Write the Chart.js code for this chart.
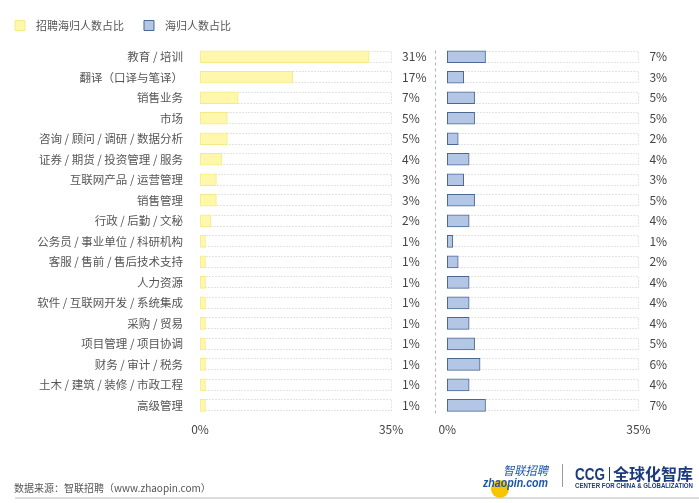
<!DOCTYPE html>
<html>
<head>
<meta charset="utf-8">
<script src="https://cdn.jsdelivr.net/npm/chart.js@4.4.0/dist/chart.umd.min.js"></script>
<style>
  html, body { margin: 0; padding: 0; background: #fff; }
  #wrap { width: 699px; height: 503px; }
</style>
</head>
<body>
<div id="wrap"><canvas id="myChart" width="699" height="503"></canvas></div>
<script>
var categories = [
  "教育 / 培训",
  "翻译（口译与笔译）",
  "销售业务",
  "市场",
  "咨询 / 顾问 / 调研 / 数据分析",
  "证券 / 期货 / 投资管理 / 服务",
  "互联网产品 / 运营管理",
  "销售管理",
  "行政 / 后勤 / 文秘",
  "公务员 / 事业单位 / 科研机构",
  "客服 / 售前 / 售后技术支持",
  "人力资源",
  "软件 / 互联网开发 / 系统集成",
  "采购 / 贸易",
  "项目管理 / 项目协调",
  "财务 / 审计 / 税务",
  "土木 / 建筑 / 装修 / 市政工程",
  "高级管理",
];
var recruitShare = [31, 17, 7, 5, 5, 4, 3, 3, 2, 1, 1, 1, 1, 1, 1, 1, 1, 1];
var returneeShare = [7, 3, 5, 5, 2, 4, 3, 5, 4, 1, 2, 4, 4, 4, 5, 6, 4, 7];
var tickValues = [0, 35];
var trackMax = 35;

var FONT = '"Noto Sans CJK SC", "Noto Sans", sans-serif';
Chart.defaults.font.family = FONT;
Chart.defaults.color = "#555";

// squeeze text to a given width (for the logos)
function fitText(ctx, text, x, y, width) {
  var w = ctx.measureText(text).width;
  ctx.save();
  ctx.translate(x, y);
  ctx.scale(width / w, 1);
  ctx.fillText(text, 0, 0);
  ctx.restore();
}

// dotted track boxes behind the bars, value text, divider, footer
var decorations = {
  id: "decorations",
  beforeInit: function (chart) {
    var fit = chart.legend.fit;
    chart.legend.fit = function () {
      fit.bind(chart.legend)();
      this.height = 46.5;
    };
  },
  beforeDatasetsDraw: function (chart) {
    var ctx = chart.ctx;
    ctx.save();
    ctx.strokeStyle = "#c8c8c8";
    ctx.lineWidth = 1;
    ctx.setLineDash([1, 2]);
    [0, 1].forEach(function (i) {
      var meta = chart.getDatasetMeta(i);
      var scale = chart.scales[meta.xAxisID];
      var x0 = scale.getPixelForValue(0);
      var x1 = scale.getPixelForValue(trackMax);
      meta.data.forEach(function (bar) {
        var top = Math.round(bar.y - bar.height / 2);
        ctx.strokeRect(Math.round(x0) + 0.5, top + 0.5, Math.round(x1 - x0), Math.round(bar.height) - 1);
      });
    });
    ctx.restore();
  },
  afterDatasetsDraw: function (chart) {
    var ctx = chart.ctx;
    var area = chart.chartArea;
    ctx.save();
    // value labels
    ctx.font = "12px " + FONT;
    ctx.fillStyle = "#444";
    ctx.textBaseline = "middle";
    ctx.textAlign = "left";
    [0, 1].forEach(function (i) {
      var meta = chart.getDatasetMeta(i);
      var scale = chart.scales[meta.xAxisID];
      var xEnd = scale.getPixelForValue(trackMax);
      var values = chart.data.datasets[i].data;
      meta.data.forEach(function (bar, j) {
        ctx.fillText(values[j] + "%", xEnd + 11, bar.y);
      });
    });
    // dashed divider between the two panels
    var xd = Math.round(chart.scales.x1.right) + 0.5;
    ctx.strokeStyle = "#b5b5b5";
    ctx.setLineDash([3, 3]);
    ctx.beginPath();
    ctx.moveTo(xd, area.top + 4);
    ctx.lineTo(xd, area.bottom);
    ctx.stroke();
    ctx.restore();
  },
  afterDraw: function (chart) {
    var ctx = chart.ctx;
    ctx.save();
    // source note
    ctx.font = "10px " + FONT;
    ctx.fillStyle = "#555";
    ctx.textBaseline = "middle";
    ctx.textAlign = "left";
    ctx.fillText("数据来源：智联招聘（www.zhaopin.com）", 14, 488);
    // bottom rule
    ctx.strokeStyle = "#dcdcdc";
    ctx.lineWidth = 2;
    ctx.beginPath();
    ctx.moveTo(15, 498);
    ctx.lineTo(699, 498);
    ctx.stroke();
    // zhaopin logo
    ctx.fillStyle = "#f6c500";
    ctx.beginPath();
    ctx.arc(500, 489, 9, 0, Math.PI * 2);
    ctx.fill();
    ctx.fillStyle = "#1d56a8";
    ctx.textBaseline = "alphabetic";
    ctx.font = "italic 12px " + FONT;
    fitText(ctx, "智联招聘", 503, 475, 45);
    ctx.font = "italic bold 13px 'Liberation Sans', sans-serif";
    fitText(ctx, "zhaopin.com", 483, 487, 65);
    // separator
    ctx.strokeStyle = "#9a9a9a";
    ctx.lineWidth = 1;
    ctx.beginPath();
    ctx.moveTo(562.5, 464);
    ctx.lineTo(562.5, 487);
    ctx.stroke();
    // CCG logo
    ctx.fillStyle = "#1b3b7c";
    ctx.font = "bold 16px 'Liberation Sans', sans-serif";
    fitText(ctx, "CCG", 575, 480, 30);
    ctx.fillRect(609, 467, 1, 14);
    ctx.font = "bold 16px " + FONT;
    fitText(ctx, "全球化智库", 613, 480, 80);
    ctx.font = "bold 7px 'Liberation Sans Narrow', 'Liberation Sans', sans-serif";
    fitText(ctx, "CENTER FOR CHINA & GLOBALIZATION", 575, 488, 118);
    ctx.restore();
  },
};

function panelTicks(scale) {
  scale.ticks = tickValues.map(function (v) {
    return { value: v };
  });
}

function pct(v) {
  return v + "%";
}

var ctx = document.getElementById("myChart").getContext("2d");
var myChart = new Chart(ctx, {
  type: "bar",
  data: {
    labels: categories,
    datasets: [
      {
        label: "招聘海归人数占比",
        data: recruitShare,
        xAxisID: "x1",
        backgroundColor: "#fff7ac",
        borderColor: "#f5ea85",
        borderWidth: 1,
        borderSkipped: false,
        barThickness: 12,
        grouped: false,
      },
      {
        label: "海归人数占比",
        data: returneeShare,
        xAxisID: "x2",
        backgroundColor: "#b4c6e6",
        borderColor: "#4a6894",
        borderWidth: 1,
        borderSkipped: false,
        barThickness: 12,
        grouped: false,
      },
    ],
  },
  plugins: [decorations],
  options: {
    indexAxis: "y",
    responsive: false,
    animation: false,
    layout: { padding: { top: 0, left: -5, right: 6, bottom: 59 } },
    plugins: {
      legend: {
        position: "top",
        align: "start",
        labels: {
          boxWidth: 10,
          boxHeight: 10,
          padding: 20,
          color: "#555",
          font: { size: 11 },
          generateLabels: function (chart) {
            var items = Chart.defaults.plugins.legend.labels.generateLabels(chart);
            items.forEach(function (it) {
              it.text = "\u2002" + it.text;
            });
            return items;
          },
        },
      },
      tooltip: { enabled: false },
    },
    scales: {
      y: {
        type: "category",
        grid: { display: false, drawTicks: false },
        border: { display: false },
        ticks: { padding: 17, color: "#555", font: { size: 11.5 } },
        afterFit: function (scale) {
          scale.width = 205;
        },
      },
      x1: {
        type: "linear",
        position: "bottom",
        stack: "panels",
        stackWeight: 43,
        min: 0,
        max: 43,
        grid: { display: false, drawTicks: false },
        border: { display: false },
        afterBuildTicks: panelTicks,
        ticks: { padding: 7, autoSkip: false, maxRotation: 0, color: "#444", font: { size: 12 }, callback: pct },
      },
      x2: {
        type: "linear",
        position: "bottom",
        stack: "panels",
        stackWeight: 47.3,
        min: -2.3,
        max: 45,
        grid: { display: false, drawTicks: false },
        border: { display: false },
        afterBuildTicks: panelTicks,
        ticks: { padding: 7, autoSkip: false, maxRotation: 0, color: "#444", font: { size: 12 }, callback: pct },
      },
    },
  },
});
</script>
</body>
</html>
